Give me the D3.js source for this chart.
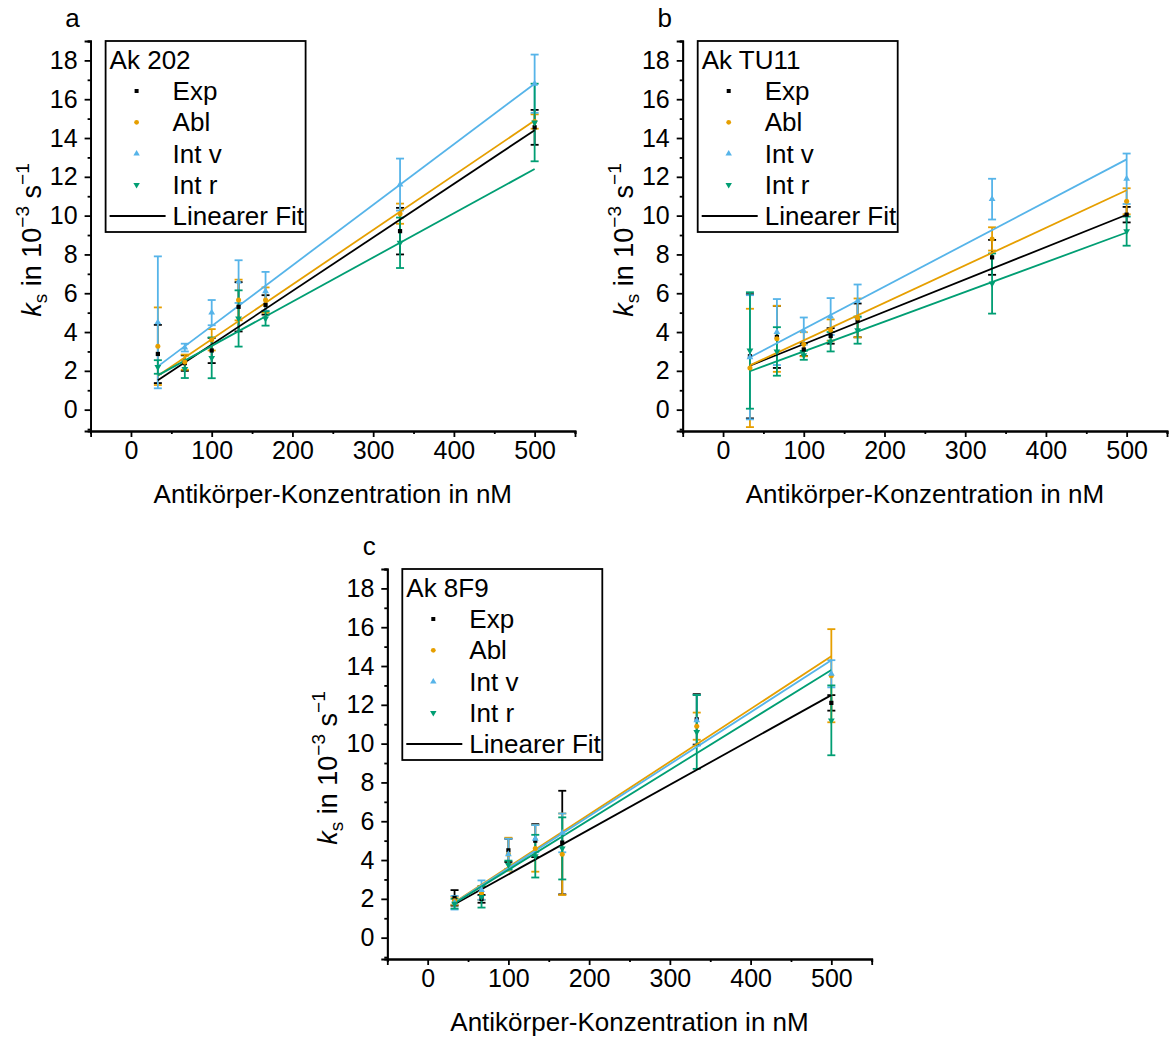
<!DOCTYPE html>
<html>
<head>
<meta charset="utf-8">
<script src="https://cdn.jsdelivr.net/npm/d3@7"></script>
<style>
  body { margin: 0; background: #fff; }
  text { font-family: "Liberation Sans", Arial, sans-serif; fill: #000; }
</style>
</head>
<body>
<svg id="vis"></svg>
<script>
(function() {
  // concentrations in nM (same for every panel)
  var conc = [33.3, 66.7, 100, 133.3, 166.7, 333.3, 500];

  var seriesNames = ["Exp", "Abl", "Int v", "Int r"];
  var seriesColors = ["#000000", "#E69F00", "#56B4E9", "#009E73"];
  var panelLetters = ["a", "b", "c"];
  var panelTitles = ["Ak 202", "Ak TU11", "Ak 8F9"];

  var xTicks = [0, 100, 200, 300, 400, 500];
  var yTicks = [0, 2, 4, 6, 8, 10, 12, 14, 16, 18];

  // Ak 202
  var ak202Exp = [2.87, 2.4, 3.05, 5.3, 5.4, 9.2, 14.55];
  var ak202ExpErr = [1.5, 0.4, 0.65, 1.27, 0.5, 1.2, 0.9];
  var ak202Abl = [3.27, 2.45, 3.6, 5.65, 5.65, 10.1, 14.85];
  var ak202AblErr = [2.0, 0.39, 0.55, 1.05, 0.65, 0.52, 0.37];
  var ak202IntV = [4.5, 3.2, 5.0, 6.6, 6.1, 11.6, 16.8];
  var ak202IntVErr = [3.4, 0.2, 0.65, 1.1, 1.0, 1.34, 1.5];
  var ak202IntR = [2.2, 2.1, 2.67, 4.7, 4.7, 8.6, 14.8];
  var ak202IntRErr = [0.35, 0.47, 1.05, 1.45, 0.37, 1.3, 2.0];
  // fit: intercept, slope (Exp, Abl, Int v, Int r)
  var ak202FitIntercept = [0.59, 0.81, 1.19, 1.01];
  var ak202FitSlope = [0.02762, 0.02818, 0.03122, 0.02278];

  // Ak TU11
  var tu11Exp = [2.75, 3.75, 3.1, 3.8, 4.6, 7.85, 10.05];
  var tu11ExpErr = [3.2, 1.6, 0.33, 0.4, 0.87, 0.9, 0.4];
  var tu11Abl = [2.15, 3.65, 3.37, 4.1, 4.73, 8.8, 10.74];
  var tu11AblErr = [3.05, 1.7, 0.62, 0.55, 1.0, 0.6, 0.67];
  var tu11IntV = [2.7, 4.0, 4.05, 4.8, 5.6, 10.85, 11.9];
  var tu11IntVErr = [3.2, 1.7, 0.7, 0.95, 0.85, 1.05, 1.3];
  var tu11IntR = [3.05, 3.0, 2.8, 3.5, 4.1, 6.5, 9.2];
  var tu11IntRErr = [3.0, 1.25, 0.23, 0.5, 0.7, 1.55, 0.75];
  var tu11FitIntercept = [1.71, 1.64, 1.97, 1.47];
  var tu11FitSlope = [0.01667, 0.01933, 0.02186, 0.01532];

  // Ak 8F9
  var f9Exp = [2.05, 2.0, 4.5, 5.0, 4.9, 11.25, 12.1];
  var f9ExpErr = [0.4, 0.2, 0.6, 0.85, 2.67, 1.3, 0.4];
  var f9Abl = [1.9, 2.3, 4.3, 4.6, 4.3, 10.9, 13.5];
  var f9AblErr = [0.2, 0.35, 0.85, 1.2, 2.1, 0.7, 2.4];
  var f9IntV = [1.8, 2.45, 4.3, 5.1, 5.4, 11.2, 13.6];
  var f9IntVErr = [0.35, 0.5, 0.8, 0.7, 1.0, 1.3, 0.7];
  var f9IntR = [1.75, 2.1, 3.75, 4.2, 4.6, 10.6, 11.2];
  var f9IntRErr = [0.25, 0.55, 0.22, 1.1, 1.6, 1.9, 1.8];
  var f9FitIntercept = [0.95, 0.915, 0.907, 0.92];
  var f9FitSlope = [0.0231, 0.02717, 0.02678, 0.02576];

  var width = 1170, height = 1039;
  var fs = 25, fsLab = 26;

  var chart = d3.select("#vis")
    .attr("width", width)
    .attr("height", height);

  // panel frames: left/right of x axis, bottom/top of y axis
  var panels = [
    { x0: 90.6, x1: 575, y0: 431, y1: 41,
      means: [ak202Exp, ak202Abl, ak202IntV, ak202IntR],
      errs: [ak202ExpErr, ak202AblErr, ak202IntVErr, ak202IntRErr],
      fitA: ak202FitIntercept, fitB: ak202FitSlope },
    { x0: 682.7, x1: 1167, y0: 431, y1: 41,
      means: [tu11Exp, tu11Abl, tu11IntV, tu11IntR],
      errs: [tu11ExpErr, tu11AblErr, tu11IntVErr, tu11IntRErr],
      fitA: tu11FitIntercept, fitB: tu11FitSlope },
    { x0: 387.3, x1: 871.7, y0: 959, y1: 569,
      means: [f9Exp, f9Abl, f9IntV, f9IntR],
      errs: [f9ExpErr, f9AblErr, f9IntVErr, f9IntRErr],
      fitA: f9FitIntercept, fitB: f9FitSlope }
  ];

  var symbols = [d3.symbolSquare, d3.symbolCircle, d3.symbolTriangle, d3.symbolTriangle];
  var symbolRot = [0, 0, 0, 180];

  panels.forEach(function(p, pi) {
    renderPanel(p, pi);
  });

  function renderPanel(p, pi) {
    var g = chart.append("g");

    var x = d3.scaleLinear().domain([-50, 550]).range([p.x0, p.x1]);
    var y = d3.scaleLinear().domain([-1.1, 19]).range([p.y0, p.y1]);

    // minor ticks
    g.append("g")
      .attr("transform", "translate(0," + p.y0 + ")")
      .call(d3.axisBottom(x).tickValues([-50, 50, 150, 250, 350, 450, 550]).tickSize(3).tickFormat(""))
      .call(styleAxis);
    g.append("g")
      .attr("transform", "translate(" + p.x0 + ",0)")
      .call(d3.axisLeft(y).tickValues([-1, 1, 3, 5, 7, 9, 11, 13, 15, 17, 19]).tickSize(3).tickFormat(""))
      .call(styleAxis);

    // major ticks
    g.append("g")
      .attr("transform", "translate(0," + p.y0 + ")")
      .call(d3.axisBottom(x).tickValues(xTicks).tickSize(6).tickPadding(4).tickFormat(d3.format("d")))
      .call(styleAxis);
    g.append("g")
      .attr("transform", "translate(" + p.x0 + ",0)")
      .call(d3.axisLeft(y).tickValues(yTicks).tickSize(6).tickPadding(7).tickFormat(d3.format("d")))
      .call(styleAxis);

    // error bars
    for (var s = 0; s < 4; s++) {
      var bars = g.append("g").attr("stroke", seriesColors[s]).attr("stroke-width", 1.8).attr("fill", "none");
      conc.forEach(function(c, i) {
        var m = p.means[s][i], e = p.errs[s][i];
        var cx = x(c);
        bars.append("line").attr("x1", cx).attr("x2", cx).attr("y1", y(m - e)).attr("y2", y(m + e));
        bars.append("line").attr("x1", cx - 4).attr("x2", cx + 4).attr("y1", y(m - e)).attr("y2", y(m - e));
        bars.append("line").attr("x1", cx - 4).attr("x2", cx + 4).attr("y1", y(m + e)).attr("y2", y(m + e));
      });
    }

    // linear fits
    for (var f = 0; f < 4; f++) {
      var a = p.fitA[f], b = p.fitB[f];
      g.append("line")
        .attr("x1", x(conc[0])).attr("y1", y(a + b * conc[0]))
        .attr("x2", x(conc[conc.length - 1])).attr("y2", y(a + b * conc[conc.length - 1]))
        .attr("stroke", seriesColors[f])
        .attr("stroke-width", 1.8);
    }

    // markers
    for (var k = 0; k < 4; k++) {
      g.append("g").selectAll("path")
        .data(conc)
        .enter()
        .append("path")
        .attr("d", d3.symbol().type(symbols[k]).size(k === 0 ? 18 : 20))
        .attr("fill", seriesColors[k])
        .attr("transform", function(d, i) {
          return "translate(" + x(d) + "," + y(p.means[k][i]) + ") rotate(" + symbolRot[k] + ")";
        });
    }

    // panel letter
    g.append("text")
      .attr("x", p.x0 - 18)
      .attr("y", p.y1 - 14)
      .attr("text-anchor", "middle")
      .attr("font-size", fsLab)
      .text(panelLetters[pi]);

    // x label
    g.append("text")
      .attr("x", x(250))
      .attr("y", p.y0 + 72)
      .attr("text-anchor", "middle")
      .attr("font-size", fsLab)
      .text("Antikörper-Konzentration in nM");

    // y label
    var yl = g.append("text")
      .attr("transform", "translate(" + (p.x0 - 50) + "," + ((p.y0 + p.y1) / 2 + 4) + ") rotate(-90)")
      .attr("text-anchor", "middle")
      .attr("font-size", 27);
    yl.append("tspan").attr("font-style", "italic").text("k");
    yl.append("tspan").attr("font-size", 19).attr("dy", 6).text("s");
    yl.append("tspan").attr("dy", -6).text(" in 10");
    yl.append("tspan").attr("font-size", 19).attr("dy", -12).text("\u22123");
    yl.append("tspan").attr("dy", 12).text(" s");
    yl.append("tspan").attr("font-size", 19).attr("dy", -12).text("\u22121");

    // legend
    var lx = p.x0 + 15, ly = p.y1;
    var leg = g.append("g").attr("transform", "translate(" + lx + "," + ly + ")");
    leg.append("rect")
      .attr("x", 0).attr("y", 0).attr("width", 200).attr("height", 191)
      .attr("fill", "#fff").attr("stroke", "#000").attr("stroke-width", 1.8);
    leg.append("text").attr("x", 4).attr("y", 28).attr("font-size", fsLab).text(panelTitles[pi]);
    seriesNames.forEach(function(name, i) {
      var cy = 50 + i * 31.3;
      leg.append("path")
        .attr("d", d3.symbol().type(symbols[i]).size(i === 0 ? 16 : 18))
        .attr("fill", seriesColors[i])
        .attr("transform", "translate(31," + cy + ") rotate(" + symbolRot[i] + ")");
      leg.append("text").attr("x", 67).attr("y", cy + 9).attr("font-size", fsLab).text(name);
    });
    leg.append("line")
      .attr("x1", 4).attr("x2", 60).attr("y1", 175).attr("y2", 175)
      .attr("stroke", "#000").attr("stroke-width", 1.8);
    leg.append("text").attr("x", 67).attr("y", 184).attr("font-size", fsLab).text("Linearer Fit");
  }

  function styleAxis(sel) {
    sel.selectAll("path.domain").attr("stroke", "#000").attr("stroke-width", 1.8);
    sel.selectAll(".tick line").attr("stroke", "#000").attr("stroke-width", 1.8);
    sel.selectAll(".tick text").attr("font-size", fs).attr("fill", "#000")
      .attr("font-family", "Liberation Sans, Arial, sans-serif");
  }
}());
</script>
</body>
</html>
